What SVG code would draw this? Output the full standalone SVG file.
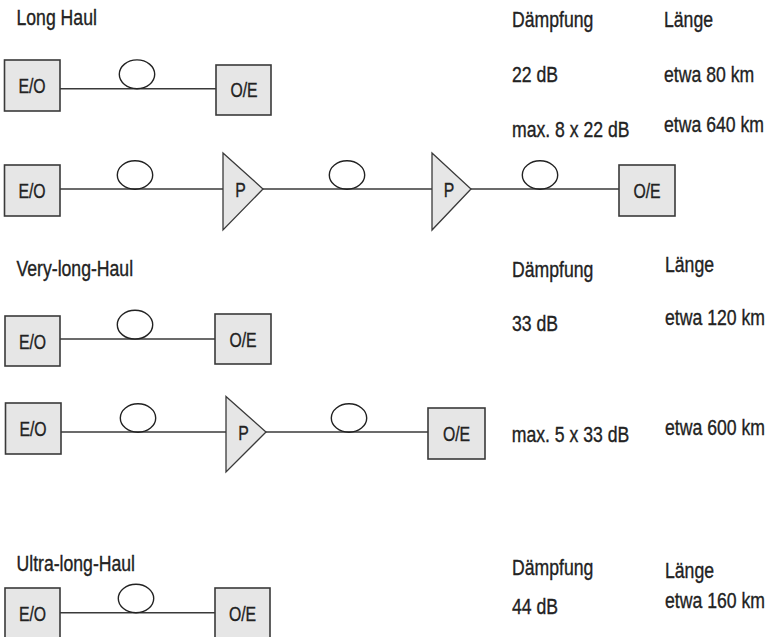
<svg xmlns="http://www.w3.org/2000/svg" width="773" height="637" viewBox="0 0 773 637">
<style>
.box{fill:#e6e6e6;stroke:#3a3a3a;stroke-width:1.6}
.amp{fill:#e6e6e6;stroke:#3a3a3a;stroke-width:1.3;stroke-linejoin:miter}
.coil{fill:none;stroke:#222;stroke-width:1.4}
.fib{stroke:#3a3a3a;stroke-width:1.5;fill:none}
text{font-family:"Liberation Sans",Arial,sans-serif;fill:#222;stroke:#222;stroke-width:0.35}
.lbl{font-size:20.5px;text-anchor:middle}
.t{font-size:21.5px}
</style>
<rect width="773" height="637" fill="#fff"/>

<g id="connectors">
<line class="fib" x1="60" y1="88.7" x2="216" y2="88.7"/>
<line class="fib" x1="60" y1="189" x2="223" y2="189"/>
<line class="fib" x1="263" y1="189" x2="432" y2="189"/>
<line class="fib" x1="471" y1="189" x2="619" y2="189"/>
<line class="fib" x1="60" y1="339" x2="215" y2="339"/>
<line class="fib" x1="61" y1="432" x2="226" y2="432"/>
<line class="fib" x1="266" y1="432" x2="428" y2="432"/>
<line class="fib" x1="60" y1="612.7" x2="215" y2="612.7"/>
</g>

<g id="fiber1"><ellipse class="coil" cx="137" cy="74.3" rx="17.7" ry="14.4"/></g>
<g id="fiber2a"><ellipse class="coil" cx="135" cy="175" rx="17.7" ry="14.2"/></g>
<g id="fiber2b"><ellipse class="coil" cx="347" cy="175" rx="17.7" ry="14.2"/></g>
<g id="fiber2c"><ellipse class="coil" cx="540" cy="175" rx="17.7" ry="14.2"/></g>
<g id="fiber3"><ellipse class="coil" cx="135" cy="324.7" rx="17.7" ry="14.4"/></g>
<g id="fiber4a"><ellipse class="coil" cx="138" cy="418" rx="17.7" ry="14.2"/></g>
<g id="fiber4b"><ellipse class="coil" cx="349" cy="418" rx="17.7" ry="14.2"/></g>
<g id="fiber5"><ellipse class="coil" cx="136" cy="598.5" rx="17.7" ry="14.2"/></g>

<g id="eo1"><rect class="box" x="4.5" y="60" width="55.5" height="51"/><text class="lbl" transform="translate(32,93) scale(0.77,1)">E/O</text></g>
<g id="oe1"><rect class="box" x="216" y="65" width="55" height="50"/><text class="lbl" transform="translate(244,97.3) scale(0.77,1)">O/E</text></g>

<g id="eo2"><rect class="box" x="4.5" y="165" width="55.5" height="51"/><text class="lbl" transform="translate(32,197.5) scale(0.77,1)">E/O</text></g>
<g id="amp2a"><polygon class="amp" points="223,153 263,189 223,230"/><text class="lbl" transform="translate(240.5,196.7) scale(0.77,1)">P</text></g>
<g id="amp2b"><polygon class="amp" points="432,153 471,189 432,230"/><text class="lbl" transform="translate(449,196.7) scale(0.77,1)">P</text></g>
<g id="oe2"><rect class="box" x="619" y="165" width="56" height="51"/><text class="lbl" transform="translate(647,197.5) scale(0.77,1)">O/E</text></g>

<g id="eo3"><rect class="box" x="5" y="316" width="55" height="50"/><text class="lbl" transform="translate(32.5,348.5) scale(0.77,1)">E/O</text></g>
<g id="oe3"><rect class="box" x="215" y="314" width="56" height="50"/><text class="lbl" transform="translate(243,346.5) scale(0.77,1)">O/E</text></g>

<g id="eo4"><rect class="box" x="5.5" y="403" width="55.5" height="51"/><text class="lbl" transform="translate(33,436) scale(0.77,1)">E/O</text></g>
<g id="amp4"><polygon class="amp" points="226,396.5 266,432 226,472"/><text class="lbl" transform="translate(243.5,439.7) scale(0.77,1)">P</text></g>
<g id="oe4"><rect class="box" x="428" y="408" width="57" height="51"/><text class="lbl" transform="translate(456.5,440.5) scale(0.77,1)">O/E</text></g>

<g id="eo5"><rect class="box" x="5" y="588" width="55" height="51"/><text class="lbl" transform="translate(32.5,620.5) scale(0.77,1)">E/O</text></g>
<g id="oe5"><rect class="box" x="215" y="588" width="55" height="51"/><text class="lbl" transform="translate(242.5,620.5) scale(0.77,1)">O/E</text></g>

<g id="labels">
<text class="t" transform="translate(16.5,25) scale(0.82,1)">Long Haul</text>
<text class="t" transform="translate(512,26.7) scale(0.82,1)">Dämpfung</text>
<text class="t" transform="translate(664,27) scale(0.82,1)">Länge</text>
<text class="t" transform="translate(512,81.7) scale(0.82,1)">22 dB</text>
<text class="t" transform="translate(664,82) scale(0.82,1)">etwa 80 km</text>
<text class="t" transform="translate(512,136.7) scale(0.82,1)">max. 8 x 22 dB</text>
<text class="t" transform="translate(664,132) scale(0.82,1)">etwa 640 km</text>

<text class="t" transform="translate(16.5,276) scale(0.82,1)">Very-long-Haul</text>
<text class="t" transform="translate(512,276.7) scale(0.82,1)">Dämpfung</text>
<text class="t" transform="translate(665,271.7) scale(0.82,1)">Länge</text>
<text class="t" transform="translate(512,330.7) scale(0.82,1)">33 dB</text>
<text class="t" transform="translate(665,325) scale(0.82,1)">etwa 120 km</text>
<text class="t" transform="translate(511.7,441.7) scale(0.82,1)">max. 5 x 33 dB</text>
<text class="t" transform="translate(665,435) scale(0.82,1)">etwa 600 km</text>

<text class="t" transform="translate(16.5,571) scale(0.82,1)">Ultra-long-Haul</text>
<text class="t" transform="translate(512,575) scale(0.82,1)">Dämpfung</text>
<text class="t" transform="translate(665,578) scale(0.82,1)">Länge</text>
<text class="t" transform="translate(512,614) scale(0.82,1)">44 dB</text>
<text class="t" transform="translate(665,608) scale(0.82,1)">etwa 160 km</text>
</g>
</svg>
